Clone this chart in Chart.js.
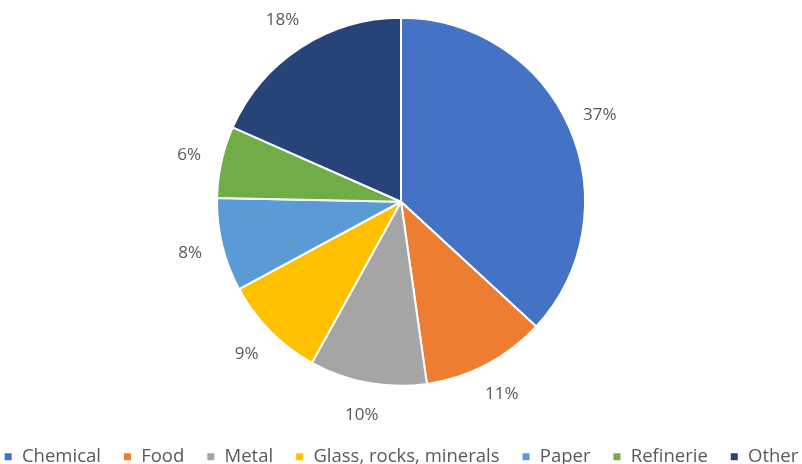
<!DOCTYPE html>
<html>
<head>
<meta charset="utf-8">
<title>Industry share</title>
<script src="https://cdn.jsdelivr.net/npm/chart.js@4/dist/chart.umd.min.js"></script>
<style>
  html, body { margin: 0; padding: 0; background: #fff; overflow: hidden; }
  #pie { display: block; margin-top: -22px; }
</style>
</head>
<body>
<canvas id="pie" width="802" height="498"></canvas>
<script>
var categories = ['Chemical', 'Food', 'Metal', 'Glass, rocks, minerals', 'Paper', 'Refinerie', 'Other'];
var shares = [36.9, 10.9, 10.3, 9.1, 8.2, 6.3, 18.4];
var colors = ['#4472C4', '#ED7D31', '#A5A5A5', '#FFC000', '#5B9BD5', '#70AD47', '#264478'];

// percentage labels outside the slices
var outsideLabels = {
  id: 'outsideLabels',
  afterDatasetsDraw: function(chart) {
    var ctx = chart.ctx;
    var meta = chart.getDatasetMeta(0);
    var total = shares.reduce(function(a, b) { return a + b; }, 0);
    ctx.save();
    ctx.font = '17px "Open Sans"';
    ctx.fillStyle = '#595959';
    ctx.textAlign = 'center';
    ctx.textBaseline = 'middle';
    meta.data.forEach(function(arc, i) {
      var p = arc.getProps(['x', 'y', 'startAngle', 'endAngle', 'outerRadius'], true);
      var a = (p.startAngle + p.endAngle) / 2;
      var r = p.outerRadius + 33;
      ctx.fillText(Math.round(shares[i] / total * 100) + '%', p.x + Math.cos(a) * r, p.y + Math.sin(a) * r);
    });
    ctx.restore();
  }
};

new Chart(document.getElementById('pie'), {
  type: 'pie',
  data: {
    labels: categories,
    datasets: [{
      data: shares,
      backgroundColor: colors,
      borderColor: '#ffffff',
      borderWidth: 2,
      radius: 184
    }]
  },
  options: {
    responsive: false,
    animation: false,
    // negative side padding lets the one-row legend use the full width
    layout: { padding: { top: 0, left: -40, right: -40, bottom: 0 } },
    plugins: {
      tooltip: { enabled: false },
      legend: {
        position: 'bottom',
        labels: {
          boxWidth: 9,
          boxHeight: 9,
          padding: 22,
          color: '#595959',
          font: { family: '"Open Sans"', size: 18.5 }
        }
      }
    }
  },
  plugins: [outsideLabels]
});
</script>
</body>
</html>
